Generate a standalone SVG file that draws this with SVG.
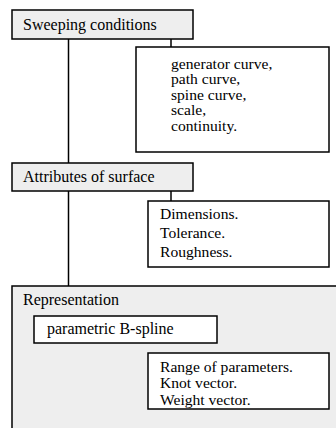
<svg xmlns="http://www.w3.org/2000/svg" width="336" height="428" viewBox="0 0 336 428">
  <style>
    .box { fill: #ffffff; stroke: #000000; stroke-width: 1.5; }
    .head { fill: #eeeeee; stroke: #000000; stroke-width: 1.5; }
    .wire { fill: none; stroke: #000000; stroke-width: 1.5; }
    text { font-family: "Liberation Serif", "Times New Roman", serif; font-size: 16px; fill: #000000; }
    .item { font-size: 15.6px; }
  </style>
  <rect width="336" height="428" fill="#ffffff"/>

  <g id="connectors">
    <line class="wire" x1="68.5" y1="39" x2="68.5" y2="163"/>
    <line class="wire" x1="68.5" y1="191" x2="68.5" y2="286"/>
    <line class="wire" x1="171" y1="39" x2="171" y2="47"/>
    <line class="wire" x1="171" y1="191" x2="171" y2="201"/>
    <line class="wire" x1="171" y1="343" x2="171" y2="353"/>
  </g>

  <g id="representation">
    <rect class="head" x="12" y="286" width="330" height="150"/>
    <text x="23" y="305">Representation</text>
  </g>

  <g id="sweeping-conditions">
    <rect class="head" x="12" y="10" width="181" height="29"/>
    <text x="23" y="29.5">Sweeping conditions</text>
  </g>

  <g id="sweeping-list">
    <rect class="box" x="136" y="47" width="193" height="105"/>
    <text class="item" x="171" y="68.5">generator curve,</text>
    <text class="item" x="171" y="84">path curve,</text>
    <text class="item" x="171" y="99.5">spine curve,</text>
    <text class="item" x="171" y="115">scale,</text>
    <text class="item" x="171" y="130.5">continuity.</text>
  </g>

  <g id="attributes">
    <rect class="head" x="12" y="163" width="181" height="28"/>
    <text x="23" y="182">Attributes of surface</text>
  </g>

  <g id="attributes-list">
    <rect class="box" x="148" y="201" width="181" height="66"/>
    <text class="item" x="160" y="219">Dimensions.</text>
    <text class="item" x="160" y="238">Tolerance.</text>
    <text class="item" x="160" y="257">Roughness.</text>
  </g>

  <g id="bspline">
    <rect class="box" x="34" y="316" width="183" height="27"/>
    <text x="47" y="333.5">parametric B-spline</text>
  </g>

  <g id="bspline-list">
    <rect class="box" x="148" y="353" width="181" height="56"/>
    <text class="item" x="160" y="371.5">Range of parameters.</text>
    <text class="item" x="160" y="388">Knot vector.</text>
    <text class="item" x="160" y="404.5">Weight vector.</text>
  </g>
</svg>
